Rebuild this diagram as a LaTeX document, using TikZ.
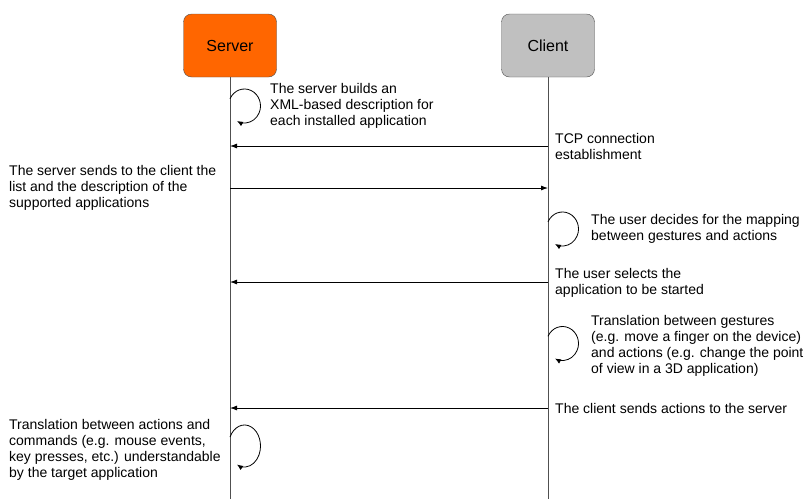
\documentclass[tikz,border=0pt]{standalone}
\usepackage{fontspec}
\setmainfont{Liberation Sans}
\usetikzlibrary{arrows.meta,positioning}

\definecolor{srvorange}{HTML}{FF6600}
\definecolor{cltgray}{HTML}{C0C0C0}
\definecolor{linegray}{HTML}{505050}

\begin{document}
\begin{tikzpicture}[x=1pt,y=-1pt,>={Latex[length=7pt,width=5pt]},font=\fontsize{14}{16}\selectfont,
  actor/.style={draw=linegray,rounded corners=8pt,minimum width=93pt,minimum height=63pt,font=\fontsize{16}{18}\selectfont},
  life/.style={linegray,line width=0.8pt},
  msg/.style={->,line width=0.8pt},
  selfloop/.style={-{Latex[length=6pt,width=5pt]},line width=0.8pt},
  note/.style={anchor=west,align=left,inner sep=0pt}]
  \useasboundingbox (0,0) rectangle (804,499);
  % partecipanti
  \node[actor,fill=srvorange] (server) at (230,45.5) {Server};
  \node[actor,fill=cltgray] (client) at (548,45.5) {Client};
  \coordinate (srvEnd) at (230,499);
  \coordinate (cltEnd) at (548,499);
  \draw[life] (server.south) -- (srvEnd);
  \draw[life] (client.south) -- (cltEnd);
  % descrizione XML
  \coordinate (lp1) at (230,98.8);
  \draw[selfloop] (lp1) arc[start angle=-155,end angle=118,x radius=16,y radius=17];
  \node[note] (n1) at (270,106) {The server builds an\\XML-based description for\\each installed application};
  % connessione TCP
  \coordinate (c1) at (548,146);
  \coordinate (s1) at (230,146);
  \draw[msg] (c1) -- (s1);
  \node[note] (n2) at (555,146) {TCP connection\\establishment};
  % lista applicazioni
  \coordinate (s2) at (230,188);
  \coordinate (c2) at (548,188);
  \draw[msg] (s2) -- (c2);
  \node[note] (n3) at (9,188) {The server sends to the client the\\list and the description of the\\supported applications};
  % mapping
  \coordinate (lp2) at (548,221.8);
  \draw[selfloop] (lp2) arc[start angle=-155,end angle=118,x radius=16,y radius=17];
  \node[note] (n4) at (591,229) {The user decides for the mapping\\between gestures and actions};
  % selezione applicazione
  \coordinate (c3) at (548,282);
  \coordinate (s3) at (230,282);
  \draw[msg] (c3) -- (s3);
  \node[note] (n5) at (555,283) {The user selects the\\application to be started};
  % traduzione gesti
  \coordinate (lp3) at (548,336.3);
  \draw[selfloop] (lp3) arc[start angle=-155,end angle=118,x radius=16,y radius=17];
  \node[note] (n6) at (591,346) {Translation between gestures\\(e.g. move a finger on the device)\\and actions (e.g. change the point\\of view in a 3D application)};
  % invio azioni
  \coordinate (c4) at (548,408);
  \coordinate (s4) at (230,408);
  \draw[msg] (c4) -- (s4);
  \node[note] (n7) at (555,408) {The client sends actions to the server};
  % traduzione comandi
  \coordinate (lp4) at (230,437.1);
  \draw[selfloop] (lp4) arc[start angle=-155,end angle=118,x radius=16,y radius=21];
  \node[note] (n8) at (9,450) {Translation between actions and\\commands (e.g. mouse events,\\key presses, etc.) understandable\\by the target application};
\end{tikzpicture}
\end{document}
